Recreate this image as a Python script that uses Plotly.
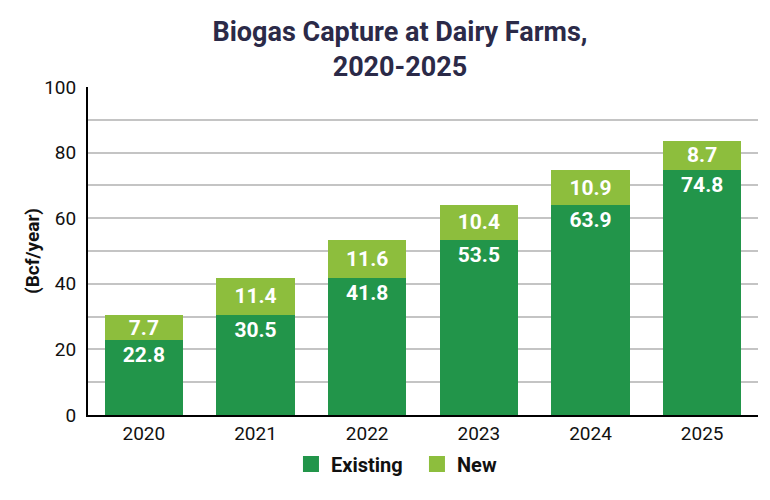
import plotly.graph_objects as go

years = ["2020", "2021", "2022", "2023", "2024", "2025"]
existing = [22.8, 30.5, 41.8, 53.5, 63.9, 74.8]
new = [7.7, 11.4, 11.6, 10.4, 10.9, 8.7]

dark_green = "#22954a"
light_green = "#8dbe3d"
label_font = dict(family="Roboto", size=21, color="white", weight="bold")

fig = go.Figure()
fig.add_bar(
    x=years, y=existing, name="Existing", showlegend=False,
    marker_color=dark_green, marker_line_width=0,
    text=["%.1f" % v for v in existing],
    textposition="inside", insidetextanchor="end", textangle=0,
    textfont=label_font, constraintext="none",
)
fig.add_bar(
    x=years, y=new, name="New", showlegend=False,
    marker_color=light_green, marker_line_width=0,
    text=["%.1f" % v for v in new],
    textposition="inside", insidetextanchor="middle", textangle=0,
    textfont=label_font, constraintext="none",
)
# bigger square swatches for the legend
for name, color in [("Existing", dark_green), ("New", light_green)]:
    fig.add_scatter(
        x=[None], y=[None], mode="markers", name=name,
        marker=dict(symbol="square", size=20, color=color),
    )

# page body adds an 8px offset, margins account for it
fig.update_layout(
    barmode="stack",
    bargap=0.3,
    width=770, height=500,
    margin=dict(l=80, r=20, t=79, b=93),
    plot_bgcolor="white",
    paper_bgcolor="white",
    font=dict(family="Roboto", size=19, color="#111111"),
    title=dict(
        text="Biogas Capture at Dairy Farms,<br>2020-2025",
        x=0.509, xanchor="center", y=0.935, yanchor="top",
        font=dict(family="Roboto", size=27, color="#2b2a48", weight="bold"),
    ),
    legend=dict(
        orientation="h", x=0.491, xanchor="center", y=-0.09, yanchor="top",
        font=dict(family="Roboto", size=20, color="#111111", weight="bold"),
        traceorder="normal", itemsizing="trace", entrywidth=81,
    ),
)
fig.update_xaxes(
    showline=True, linecolor="black", linewidth=2,
    ticks="", tickfont=dict(size=19), automargin=False,
)
fig.update_yaxes(
    range=[0, 100], tickvals=[0, 20, 40, 60, 80, 100],
    showline=True, linecolor="black", linewidth=2,
    showgrid=True, gridcolor="#c4c4c4", gridwidth=1.5,
    minor=dict(dtick=10, showgrid=True, gridcolor="#c4c4c4", gridwidth=1.5),
    ticks="", tickfont=dict(size=19), ticklabelstandoff=6,
    title=dict(text="<b>(Bcf/year)</b>", font=dict(size=19), standoff=0),
    zeroline=False, automargin=False,
)

fig.write_html("out.html")
